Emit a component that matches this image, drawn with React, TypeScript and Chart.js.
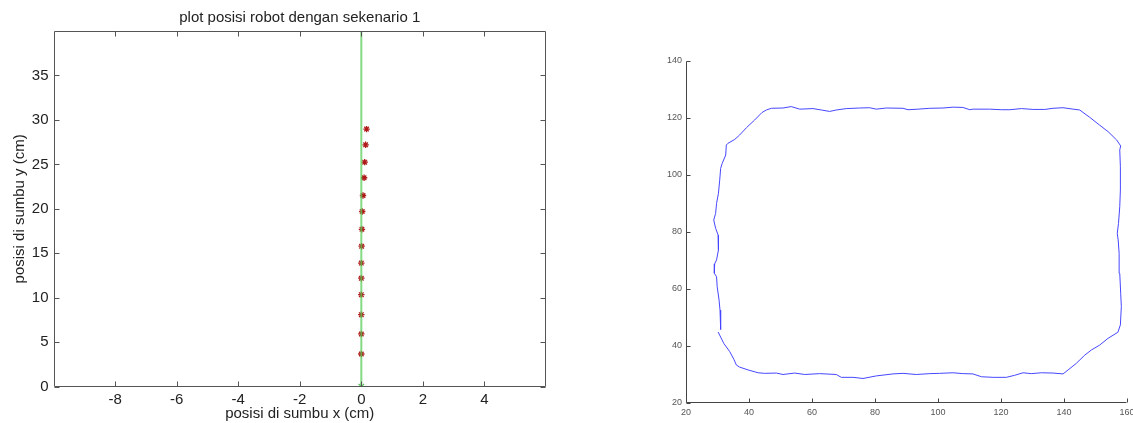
import React, { useEffect, useRef } from "react";
import { Chart, registerables } from "chart.js";

Chart.register(...registerables);

// ---------- Left chart data ----------
const LEFT_TITLE = "plot posisi robot dengan sekenario 1";
const LEFT_X_LABEL = "posisi di sumbu x (cm)";
const LEFT_Y_LABEL = "posisi di sumbu y (cm)";
const LEFT_X_TICKS = [-8, -6, -4, -2, 0, 2, 4];
const LEFT_Y_TICKS = [0, 5, 10, 15, 20, 25, 30, 35];
const ROBOT_X = [0.0, 0.0, 0.0, 0.0, 0.0, 0.0, 0.01, 0.02, 0.03, 0.055, 0.09, 0.11, 0.14, 0.17];
const ROBOT_Y = [3.68, 5.93, 8.1, 10.35, 12.2, 13.9, 15.8, 17.7, 19.7, 21.5, 23.5, 25.25, 27.2, 28.97];
const REF_LINE_X = [0, 0];
const REF_LINE_Y = [0, 40];
const START_X = [0];
const START_Y = [0];

// ---------- Right chart data ----------
const RIGHT_X_TICKS = [20, 40, 60, 80, 100, 120, 140, 160];
const RIGHT_Y_TICKS = [20, 40, 60, 80, 100, 120, 140];
const PATH_X = [
  30.2, 32.0, 33.9, 35.2, 36.0, 37.0, 39.7, 42.9, 45.0, 48.7, 50.8, 54.5, 57.7, 62.4, 67.7, 69.3, 73.0, 76.2,
  80.4, 85.7, 88.9, 93.1, 97.4, 100.5, 104.8, 107.9, 111.1, 113.8, 117.5, 121.7, 124.3, 127.0, 129.6, 132.8,
  136.5, 139.7, 141.3, 143.9, 146.6, 148.7, 151.3, 154.0, 157.1, 157.9, 158.2, 158.0, 157.7, 157.5, 157.2,
  156.9, 157.3, 157.7, 157.9, 157.9, 157.7, 158.0, 156.7, 154.0, 151.3, 148.2, 145.0, 142.9, 139.7, 136.5,
  133.9, 130.2, 126.5, 122.8, 120.1, 116.4, 111.1, 110.1, 107.9, 104.8, 101.6, 97.4, 93.7, 90.5, 88.9, 83.6,
  80.4, 78.3, 75.1, 70.9, 67.7, 65.6, 63.0, 60.3, 56.1, 53.4, 50.8, 47.1, 45.5, 44.1, 41.8, 39.2, 37.0, 35.5,
  33.3, 32.8, 32.6, 31.5, 31.0, 30.7, 30.3, 29.7, 29.4, 28.8, 29.4, 30.2, 30.3, 29.7, 29.1, 29.0, 29.7, 29.9,
  30.5, 30.8, 31.0,
];
const PATH_Y = [
  44.8, 40.8, 37.9, 35.2, 33.2, 32.5, 31.5, 30.5, 30.3, 30.4, 29.9, 30.4, 29.9, 30.2, 29.9, 28.9, 28.9, 28.5,
  29.4, 30.1, 30.3, 29.9, 30.2, 30.3, 30.5, 30.2, 30.1, 29.1, 28.9, 28.9, 29.6, 30.5, 30.2, 30.5,
  30.4, 30.1, 31.5, 33.8, 36.7, 38.5, 40.2, 42.6, 44.7, 47.3, 53.7, 58.4, 65.4, 72.4, 77.1,
  79.4, 82.9, 88.8, 94.6, 102.8, 108.7, 110.1, 112.2, 115.1, 117.4, 120.1, 122.7, 123.0, 123.5, 123.3,
  122.9, 122.9, 123.2, 122.8, 122.8, 123.0, 123.0, 122.8, 123.6, 123.7, 123.4, 123.3, 123.0, 122.8, 123.3, 123.4,
  123.0, 123.5, 123.4, 123.2, 122.7, 122.2, 122.7, 123.2, 123.0, 123.9, 123.4, 123.3, 122.7, 121.8, 119.2, 116.5, 113.9, 112.4,
  111.0, 110.4, 106.9, 104.0, 102.2, 98.1, 93.5, 89.9, 86.4, 84.1, 81.2, 78.8, 73.6, 70.1, 68.7, 65.4, 64.2, 60.7,
  56.0, 52.5, 45.7,
];

const FONT = "'Liberation Sans', Arial, Helvetica, sans-serif";

function toPoints(xs: number[], ys: number[]) {
  return ys.map((y, i) => ({ x: xs[i], y }));
}

function framePlugin(opts: { box: boolean; tickLen: number; color: string; xTicks: number[]; yTicks: number[] }) {
  return {
    id: "frameTicks",
    afterDraw(chart: any) {
      const { ctx, chartArea } = chart;
      const { left, right, top, bottom } = chartArea;
      const xs = chart.scales.x;
      const ys = chart.scales.y;
      ctx.save();
      ctx.strokeStyle = opts.color;
      ctx.lineWidth = 1;
      ctx.beginPath();
      const L = Math.round(left) + 0.5;
      const R = Math.round(right) - 0.5;
      const T = Math.round(top) + 0.5;
      const B = Math.round(bottom) - 0.5;
      ctx.moveTo(L, T);
      ctx.lineTo(L, B);
      ctx.lineTo(R, B);
      if (opts.box) {
        ctx.lineTo(R, T);
        ctx.lineTo(L, T);
      }
      for (const v of opts.xTicks) {
        const px = Math.round(xs.getPixelForValue(v)) + 0.5;
        ctx.moveTo(px, B);
        ctx.lineTo(px, B - opts.tickLen);
        if (opts.box) {
          ctx.moveTo(px, T);
          ctx.lineTo(px, T + opts.tickLen);
        }
      }
      for (const v of opts.yTicks) {
        const py = Math.round(ys.getPixelForValue(v)) + 0.5;
        ctx.moveTo(L, py);
        ctx.lineTo(L + opts.tickLen, py);
        if (opts.box) {
          ctx.moveTo(R, py);
          ctx.lineTo(R - opts.tickLen, py);
        }
      }
      ctx.stroke();
      ctx.restore();
    },
  };
}

function LeftChart() {
  const ref = useRef<HTMLCanvasElement>(null);
  useEffect(() => {
    const chart = new Chart(ref.current as HTMLCanvasElement, {
      type: "scatter",
      data: {
        datasets: [
          {
            data: toPoints(REF_LINE_X, REF_LINE_Y),
            showLine: true,
            borderColor: "rgba(90, 205, 90, 0.75)",
            borderWidth: 2,
            pointRadius: 0,
            order: 0,
          },
          {
            data: toPoints(START_X, START_Y),
            pointStyle: "star",
            pointRadius: 4,
            borderColor: "#55bb55",
            backgroundColor: "#55bb55",
            borderWidth: 1.2,
            order: 1,
          },
          {
            data: toPoints(ROBOT_X, ROBOT_Y),
            pointStyle: "star",
            pointRadius: 3.2,
            borderColor: "#b01a1a",
            backgroundColor: "#b01a1a",
            borderWidth: 1.3,
            order: 2,
          },
        ],
      },
      options: {
        animation: false,
        responsive: false,
        layout: { padding: { left: 0, right: 14, top: 0, bottom: 0 } },
        plugins: {
          legend: { display: false },
          tooltip: { enabled: false },
          title: {
            display: true,
            text: LEFT_TITLE,
            fullSize: false,
            color: "#222",
            font: { family: FONT, size: 15, weight: "normal" },
            padding: { top: 9, bottom: 4 },
          },
        },
        scales: {
          x: {
            type: "linear",
            min: -10,
            max: 6,
            grid: { display: false, drawTicks: false },
            border: { display: false },
            afterBuildTicks: (s: any) => {
              s.ticks = LEFT_X_TICKS.map((v) => ({ value: v }));
            },
            afterFit: (s: any) => {
              s.height = 36.3;
              s.paddingLeft = 0;
              s.paddingRight = 0;
            },
            ticks: {
              autoSkip: false,
              maxRotation: 0,
              padding: 4,
              color: "#222",
              font: { family: FONT, size: 15 },
            },
            title: {
              display: true,
              text: LEFT_X_LABEL,
              color: "#222",
              font: { family: FONT, size: 15 },
              padding: { top: 0, bottom: 0 },
            },
          },
          y: {
            type: "linear",
            min: 0,
            max: 40,
            grid: { display: false, drawTicks: false },
            border: { display: false },
            afterBuildTicks: (s: any) => {
              s.ticks = LEFT_Y_TICKS.map((v) => ({ value: v }));
            },
            afterFit: (s: any) => {
              s.width = 53.5;
              s.paddingTop = 0;
              s.paddingBottom = 0;
            },
            ticks: {
              autoSkip: false,
              padding: 5,
              color: "#222",
              font: { family: FONT, size: 15 },
            },
            title: {
              display: true,
              text: LEFT_Y_LABEL,
              color: "#222",
              font: { family: FONT, size: 15 },
              padding: { top: 11, bottom: 0 },
            },
          },
        },
      },
      plugins: [
        framePlugin({ box: true, tickLen: 5, color: "#555", xTicks: LEFT_X_TICKS, yTicks: LEFT_Y_TICKS }),
      ],
    } as any);
    return () => chart.destroy();
  }, []);
  return (
    <canvas
      ref={ref}
      width={560}
      height={423}
      style={{ position: "absolute", left: 0, top: 0, width: 560, height: 423 }}
    />
  );
}

function RightChart() {
  const ref = useRef<HTMLCanvasElement>(null);
  useEffect(() => {
    const chart = new Chart(ref.current as HTMLCanvasElement, {
      type: "scatter",
      data: {
        datasets: [
          {
            data: toPoints(PATH_X, PATH_Y),
            showLine: true,
            borderColor: "#4646ff",
            borderWidth: 1,
            pointRadius: 0,
            tension: 0,
          },
        ],
      },
      options: {
        animation: false,
        responsive: false,
        layout: { padding: { left: 0, right: 6, top: 60.7, bottom: 0 } },
        plugins: {
          legend: { display: false },
          tooltip: { enabled: false },
          title: { display: false },
        },
        scales: {
          x: {
            type: "linear",
            min: 20,
            max: 160,
            grid: { display: false, drawTicks: false },
            border: { display: false },
            afterBuildTicks: (s: any) => {
              s.ticks = RIGHT_X_TICKS.map((v) => ({ value: v }));
            },
            afterFit: (s: any) => {
              s.height = 20.3;
              s.paddingLeft = 0;
              s.paddingRight = 0;
            },
            ticks: {
              autoSkip: false,
              maxRotation: 0,
              padding: 4,
              color: "#555",
              font: { family: FONT, size: 9 },
            },
          },
          y: {
            type: "linear",
            min: 20,
            max: 140,
            grid: { display: false, drawTicks: false },
            border: { display: false },
            afterBuildTicks: (s: any) => {
              s.ticks = RIGHT_Y_TICKS.map((v) => ({ value: v }));
            },
            afterFit: (s: any) => {
              s.width = 126;
              s.paddingTop = 0;
              s.paddingBottom = 0;
            },
            ticks: {
              autoSkip: false,
              padding: 4,
              color: "#555",
              font: { family: FONT, size: 9 },
            },
          },
        },
      },
      plugins: [
        framePlugin({ box: false, tickLen: 4, color: "#444", xTicks: RIGHT_X_TICKS, yTicks: RIGHT_Y_TICKS }),
      ],
    } as any);
    return () => chart.destroy();
  }, []);
  return (
    <canvas
      ref={ref}
      width={573}
      height={423}
      style={{ position: "absolute", left: 560, top: 0, width: 573, height: 423 }}
    />
  );
}

export default function App() {
  return (
    <div
      style={{
        position: "fixed",
        left: 0,
        top: 0,
        width: 1133,
        height: 423,
        background: "#fff",
        overflow: "hidden",
      }}
    >
      <LeftChart />
      <RightChart />
    </div>
  );
}
